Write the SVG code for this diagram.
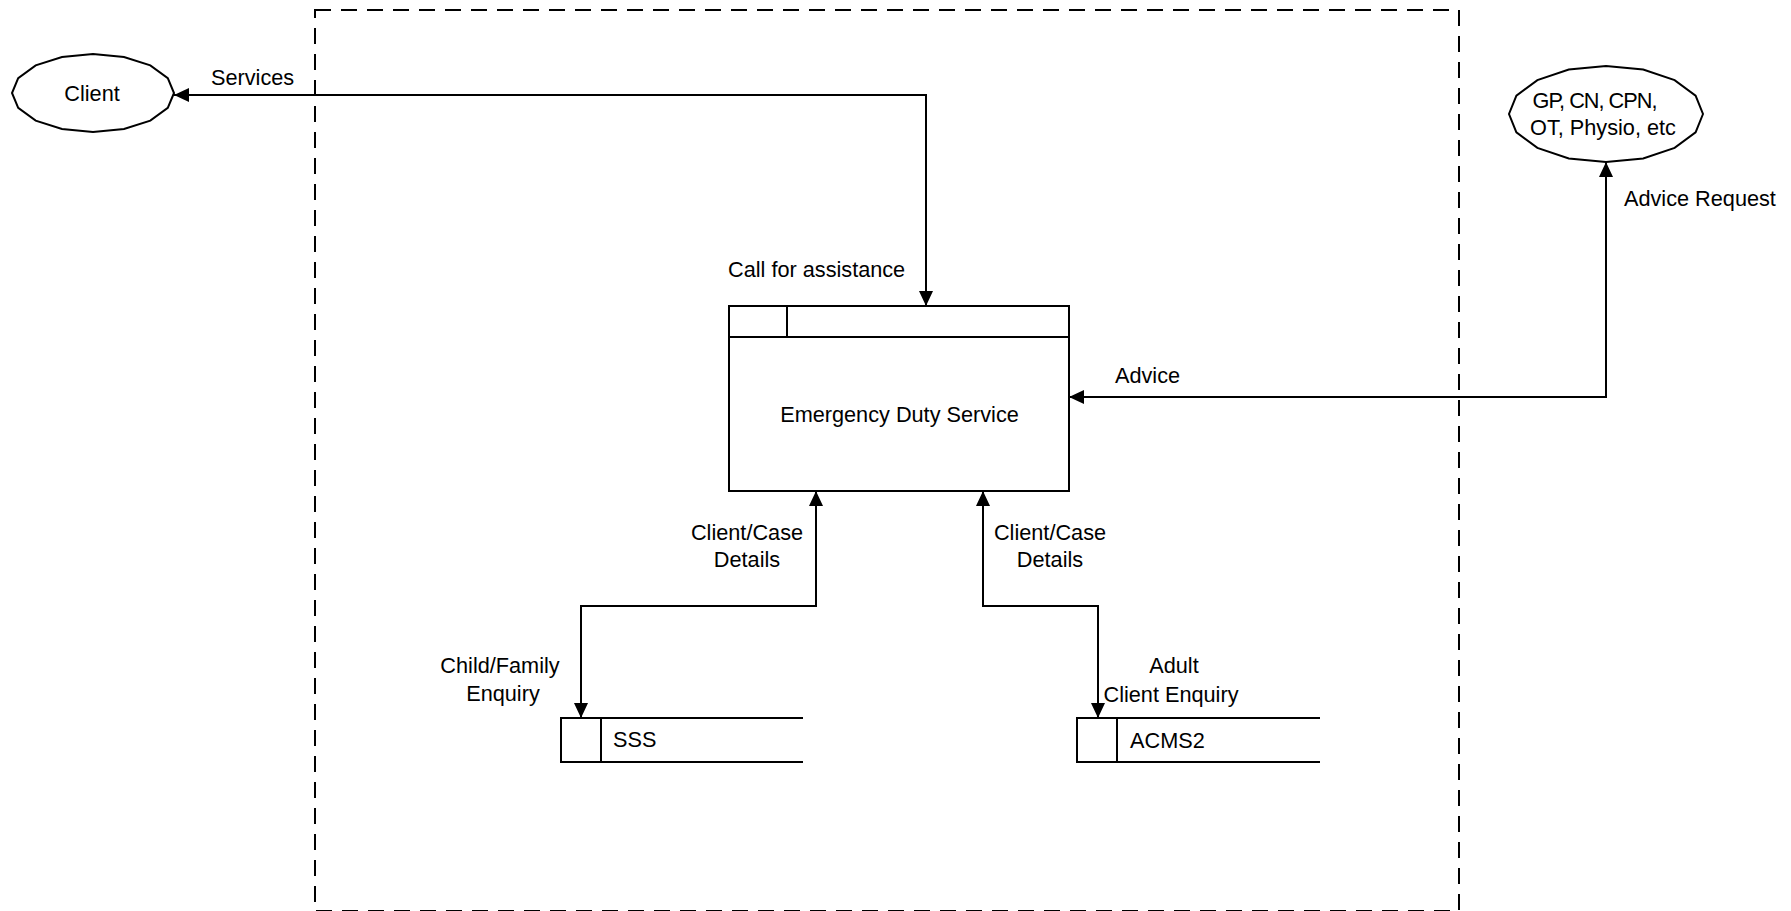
<svg xmlns="http://www.w3.org/2000/svg" width="1791" height="911" viewBox="0 0 1791 911">
  <style>
    .ln { fill: none; stroke: #000; stroke-width: 2; }
    .shape { fill: #fff; stroke: #000; stroke-width: 2; }
    .boundary { fill: none; stroke: #000; stroke-width: 2; stroke-dasharray: 16 10; }
    text { font-family: "Liberation Sans", Arial, sans-serif; font-size: 21.7px; fill: #000; }
    .mid { text-anchor: middle; }
  </style>
  <defs>
    <marker id="arrow" viewBox="0 0 15 14" refX="15" refY="7" markerWidth="15" markerHeight="14" markerUnits="userSpaceOnUse" orient="auto-start-reverse">
      <path d="M0,0 L15,7 L0,14 z" fill="#000"/>
    </marker>
  </defs>

  <!-- system boundary; its lower edge sits on the page edge -->
  <rect id="system-boundary" class="boundary" x="315" y="10" width="1144" height="901"/>

  <g id="connectors">
    <path class="ln" d="M174,95 H926 V306" marker-start="url(#arrow)" marker-end="url(#arrow)"/>
    <path class="ln" d="M1069,397 H1606 V162" marker-start="url(#arrow)" marker-end="url(#arrow)"/>
    <path class="ln" d="M816,491 V606 H581 V718" marker-start="url(#arrow)" marker-end="url(#arrow)"/>
    <path class="ln" d="M983,491 V606 H1098 V718" marker-start="url(#arrow)" marker-end="url(#arrow)"/>
    <text x="211" y="85">Services</text>
    <text x="728" y="277">Call for assistance</text>
    <text x="1115" y="383">Advice</text>
    <text x="1624" y="206">Advice Request</text>
    <text class="mid" x="747" y="540">Client/Case</text>
    <text class="mid" x="747" y="567">Details</text>
    <text class="mid" x="1050" y="540">Client/Case</text>
    <text class="mid" x="1050" y="567">Details</text>
    <text class="mid" x="500" y="673">Child/Family</text>
    <text class="mid" x="503" y="701">Enquiry</text>
    <text class="mid" x="1174" y="673">Adult</text>
    <text class="mid" x="1171" y="702">Client Enquiry</text>
  </g>

  <g id="client">
    <polygon class="shape" points="174,93 167.8,107.9 150.3,120.6 124,129 93,132 62,129 35.7,120.6 18.2,107.9 12,93 18.2,78.1 35.7,65.4 62,57 93,54 124,57 150.3,65.4 167.8,78.1"/>
    <text class="mid" x="92" y="101">Client</text>
  </g>

  <g id="health-professionals">
    <polygon class="shape" points="1703,114 1695.6,132.4 1674.6,147.9 1643.2,158.4 1606,162 1568.8,158.4 1537.4,147.9 1516.4,132.4 1509,114 1516.4,95.6 1537.4,80.1 1568.8,69.6 1606,66 1643.2,69.6 1674.6,80.1 1695.6,95.6"/>
    <text class="mid" x="1595" y="108" textLength="125" lengthAdjust="spacing">GP, CN, CPN,</text>
    <text class="mid" x="1603" y="135">OT, Physio, etc</text>
  </g>

  <g id="emergency-duty-service">
    <rect class="shape" x="729" y="306" width="340" height="185"/>
    <path class="ln" d="M729,337 H1069 M787,306 V337"/>
    <text class="mid" x="899.5" y="422">Emergency Duty Service</text>
  </g>

  <g id="store-sss">
    <path class="ln" d="M803,718 H561 V762 H803 M601,718 V762"/>
    <text x="613" y="747">SSS</text>
  </g>

  <g id="store-acms2">
    <path class="ln" d="M1320,718 H1077 V762 H1320 M1117,718 V762"/>
    <text x="1130" y="748">ACMS2</text>
  </g>
</svg>
